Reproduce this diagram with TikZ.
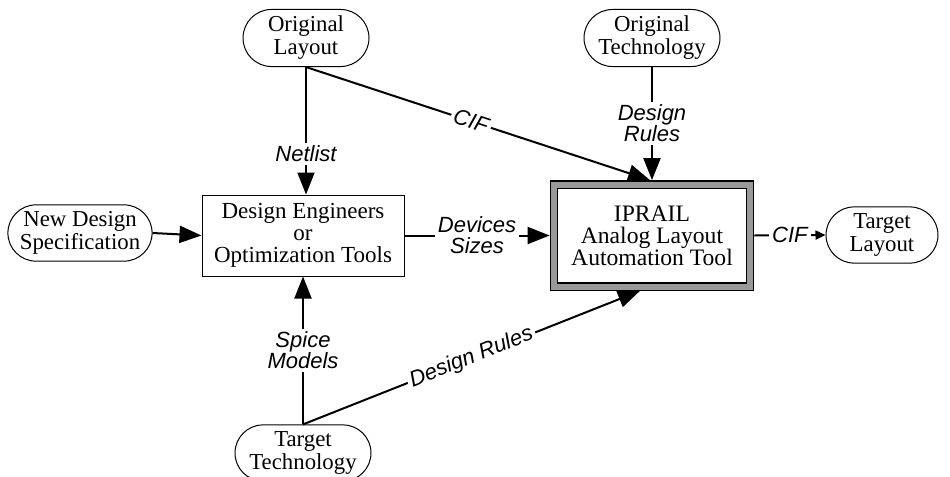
\documentclass[tikz,border=0pt]{standalone}
\usepackage{fontspec}
\setmainfont{Liberation Serif}
\setsansfont{Liberation Sans}
\usetikzlibrary{arrows.meta,shapes.misc}

\begin{document}
\begin{tikzpicture}[x=0.5pt, y=-0.5pt,
    terminal/.style ={rounded rectangle, draw, line width=0.5pt, inner xsep=1pt,
        align=center, font=\fontsize{11.4}{11.5}\selectfont},
    process/.style ={rectangle, draw, line width=0.5pt, align=center,
        minimum width=101pt, minimum height=40.5pt, font=\fontsize{11.5}{11}\selectfont},
    tool/.style ={rectangle, draw, line width=0.6pt, double=gray!80,
        double distance=3pt, outer sep=2.2pt, align=center,
        minimum width=98pt, minimum height=51pt, font=\fontsize{11.8}{11}\selectfont},
    flow/.style ={line width=1pt, -{Triangle[length=11pt,width=8.5pt]}},
    lbl/.style ={fill=white, inner sep=1.5pt, align=center,
        font=\sffamily\itshape\fontsize{11}{10.5}\selectfont}]
   \useasboundingbox (0,0) rectangle (950,477);

   \node[terminal, minimum width=65pt, minimum height=28pt] (OL) at (306,38)
        {Original\\Layout};
   \node[terminal, minimum width=70pt, minimum height=28pt] (OT) at (652,38)
        {Original\\Technology};
   \node[terminal, minimum width=70pt, minimum height=25pt] (NS) at (80,233)
        {New Design\\Specification};
   \node[process] (DE) at (303,235.5) {Design Engineers\\or\\Optimization Tools};
   \node[tool] (IP) at (652,235.5) {IPRAIL\\Analog Layout\\Automation Tool};
   \node[terminal, minimum width=58pt, minimum height=27pt] (TL) at (882,235)
        {Target\\Layout};
   \node[terminal, minimum width=70pt, minimum height=28pt] (TT) at (303,453)
        {Target\\Technology};

   \draw[flow] (OL.south) to node[lbl, pos=0.68] {Netlist} (OL.south |- DE.north);
   \draw[flow] (OL.south) to node[lbl, sloped, pos=0.48] {CIF} ([xshift=-1pt]IP.north);
   \draw[flow] (OT.south) to node[lbl] {Design\\Rules} (IP.north);
   \draw[flow] (NS.east) to (DE.west);
   \draw[flow] (DE.east) to node[lbl] {Devices\\Sizes} (IP.west);
   \draw[line width=1pt, -{Triangle[length=5pt,width=4.5pt]}] (IP.east)
        to node[lbl] {CIF} (TL.west);
   \draw[flow] (TT.north) to node[lbl] {Spice\\Models} (DE.south);
   \draw[flow] (TT.north) to node[lbl, sloped] {Design Rules} ([xshift=-6pt]IP.south);

 \end{tikzpicture}
\end{document}
